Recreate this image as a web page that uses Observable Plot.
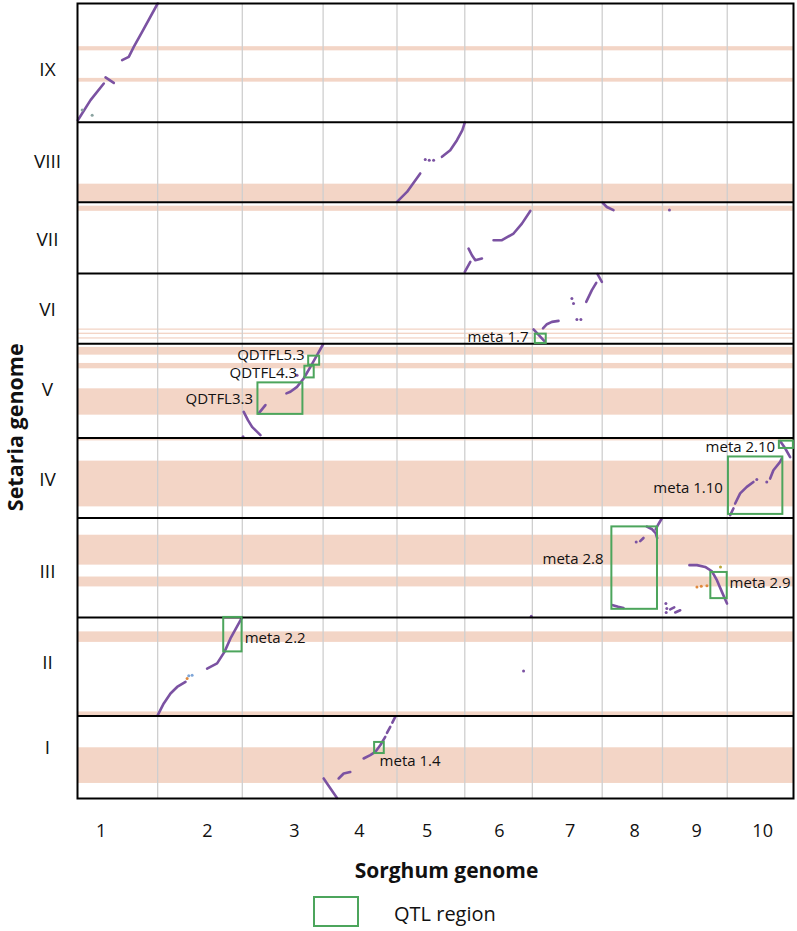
<!DOCTYPE html>
<html><head><meta charset="utf-8">
<script src="https://cdn.jsdelivr.net/npm/d3@7"></script>
<script src="https://cdn.jsdelivr.net/npm/@observablehq/plot@0.6"></script>
<style>
body{margin:0;background:#fff;font-family:"Open Sans",sans-serif;}
#wrap{position:relative;width:797px;}
#legend{position:relative;height:46px;width:797px;}
#legend .box{position:absolute;left:313px;top:11px;width:42px;height:27px;border:2px solid #4ca55c;}
#legend .lab{position:absolute;left:394px;top:15px;font-size:20px;line-height:28px;color:#111;font-family:"Open Sans",sans-serif;}
</style></head><body>
<div id="wrap"><div id="chart"></div>
<div id="legend"><div class="box"></div><div class="lab">QTL region</div></div></div>
<script>
// Sorghum chromosomes (x axis), lengths in Mb
const sorghumChr = ["1","2","3","4","5","6","7","8","9","10"];
const sorghumLen = [73.8, 77.9, 74.4, 68.0, 62.4, 62.2, 64.3, 55.5, 59.6, 61.0];
const sorghumTickPos = [21.8, 45.8, 47.9, 33.5, 27.8, 31.8, 34.9, 29.8, 31.4, 32.6];

// Setaria chromosomes (y axis, bottom to top), lengths in Mb
const setariaChr = ["I","II","III","IV","V","VI","VII","VIII","IX"];
const setariaLen = [41.6, 49.8, 50.2, 40.4, 47.6, 35.4, 36.0, 40.4, 59.9];
const setariaLabelPos = [25.4, 26.7, 22.8, 19.1, 24.1, 16.9, 16.8, 20.2, 26.2];

// highlighted (pink) Setaria regions
const bandChr   = ["IX","IX","VIII","VII","VI","VI","VI","V","V","V","IV","IV","III","III","II","II","I"];
const bandStart = [36.0,20.2,0,31.4,6.75,4.6,2.3,41.8,34.9,11.5,38.9,5.6,26.4,15.4,37.2,0,7.6];
const bandEnd   = [38.1,22.1,9.1,34.0,7.4,5.3,2.95,45.7,37.6,24.8,40.2,28.7,41.5,20.4,42.5,2.1,25.6];

// syntenic runs: sorghum chr, setaria chr, points [sorghum Mb, setaria Mb]
const blockSorghum = ["1","1","1","5","5","6","6","6","8","7","7","7","7","3","3","3","10","10","10","10","8","8","8","8","9","9","9","2","2","4","4","4","4","4"];
const blockSetaria = ["IX","IX","IX","VIII","VIII","VII","VII","VII","VII","VI","VI","VI","VI","V","V","V","IV","IV","IV","IV","III","III","III","III","III","III","III","II","II","I","I","I","I","I"];
const blockPoints = [
  [[0.3,1.0],[12.0,11.1],[24.2,19.5]],
  [[25.8,22.6],[33.4,19.8]],
  [[41.1,31.3],[47.2,33.0],[51.8,38.0],[59.5,45.6],[73.8,59.9]],
  [[0,0.2],[9.2,5.2],[21.4,14.5]],
  [[41.4,22.9],[49.0,26.2],[55.2,31.3],[60.1,36.3],[62.4,40.2]],
  [[0,0.8],[5.1,5.9]],
  [[3.5,12.6],[6.6,9.2],[9.7,6.7],[15.8,7.6]],
  [[26.5,16.8],[34.2,16.8],[44.9,20.2],[52.6,25.2],[60.3,31.6]],
  [[0.6,35.6],[4.3,33.6],[10.4,32.0]],
  [[1.1,7.2],[10.9,1.4]],
  [[9.8,7.7],[13.4,9.8],[18.0,11.0],[24.1,11.5]],
  [[49.6,21.1],[54.8,27.0],[58.8,30.7]],
  [[60.0,35.1],[64.0,31.2]],
  [[40.6,22.5],[44.3,23.3],[50.4,25.8],[56.5,30.0],[62.7,35.9],[68.8,41.8],[74.4,47.3]],
  [[15.1,12.4],[21.3,16.6]],
  [[1.3,13.2],[5.2,9.0],[9.0,5.6],[16.7,1.4]],
  [[2.7,1.4],[5.7,4.8]],
  [[7.3,7.3],[11.9,12.4],[18.0,15.7],[24.1,18.2]],
  [[39.5,19.9],[42.5,24.1],[48.7,28.3],[50.2,30.0]],
  [[48.7,38.8],[53.3,35.2],[57.9,30.7]],
  [[49.2,44.5],[52.0,47.3],[54.7,49.8]],
  [[41.1,45.8],[46.0,44.5],[49.2,42.5],[50.6,40.0]],
  [[35.0,38.5],[38.0,40.1]],
  [[9.8,6.2],[14.7,5.4],[19.6,4.8]],
  [[7.1,4.1],[10.8,5.1]],
  [[11.7,2.5],[16.3,3.6]],
  [[24.8,26.4],[31.7,26.4],[39.3,25.5],[45.5,23.3],[50.1,18.8],[54.7,12.9],[59.4,7.0]],
  [[0.1,0.5],[5.6,6.4],[11.8,11.4],[17.9,14.7],[25.6,17.3]],
  [[45.5,24.0],[54.7,26.6],[61.5,32.4],[67.0,39.2],[77.7,49.8]],
  [[0.5,10.1],[6.6,5.2],[12.8,0.3]],
  [[14.3,10.1],[18.9,12.6],[25.0,13.4]],
  [[37.3,20.2],[43.4,21.9],[48.0,23.5],[52.6,26.9],[57.2,31.1]],
  [[58.8,33.1],[61.8,36.1]],
  [[63.7,38.3],[66.4,41.2]]
];

// isolated hits
const dotSorghum = ["1","1","5","5","5","9","7","7","7","7","3","3","6","9","9","9","8","9","9","9","9","10","10","2","2","2","6"];
const dotSetaria = ["IX","IX","VIII","VIII","VIII","VII","VI","VI","VI","VI","V","V","III","III","III","III","III","III","III","III","III","IV","IV","II","II","II","II"];
const dotX = [4.3,13.5,26.0,29.7,33.7,6.4,36.4,37.9,41.0,44.7,50.4,0.7,61.2,3.1,4.0,3.4,31.3,31.7,35.7,40.9,53.4,27.2,36.4,27.1,28.6,31.7,54.1];
const dotY = [6.1,3.5,21.6,21.2,21.2,32.0,22.8,20.3,12.2,12.2,31.7,0.6,0.6,7.0,4.5,2.5,38.1,15.4,15.7,16.0,25.5,19.4,18.2,19.0,20.3,20.6,22.7];
const dotColor = ["#8aa3a0","#8aa3a0","p","p","p","p","p","p","p","p","p","p","p","p","p","p","p","#e0893e","#e0893e","#e0893e","#b8a83a","p","p","#e0893e","#7fa6d8","#7fa6d8","p"];

// QTL regions
const qtlName = ["QDTFL5.3","QDTFL4.3","QDTFL3.3","meta 1.7","meta 2.10","meta 1.10","meta 2.8","meta 2.9","meta 2.2","meta 1.4"];
const qtlSorghum = ["3","3","3","7","10","10","8","9","2","4"];
const qtlSetaria = ["V","V","V","VI","IV","IV","III","III","II","I"];
const qtlX1 = [61.1,57.6,14.4,2.7,48.0,1.1,8.9,44.5,60.8,47.4];
const qtlX2 = [71.2,66.2,55.8,12.8,60.9,51.2,50.9,59.6,77.7,56.3];
const qtlY1 = [36.7,30.3,11.9,0.1,35.1,1.8,4.1,9.5,32.4,22.7];
const qtlY2 = [41.3,36.2,27.8,4.8,38.8,30.8,45.7,22.7,49.8,28.3];
const qtlLabelX = [57.4,50.4,9.9,-3.5,44.1,-4.0,1.2,61.8,80.1,52.0];
const qtlLabelY = [41.6,32.5,19.6,3.4,35.6,15.2,29.2,17.1,39.2,19.0];
const qtlLabelAnchor = ["end","end","end","end","end","end","end","start","start","start"];

// axis titles
const xTitle = "Sorghum genome";
const yTitle = "Setaria genome";
const yTitlePos = 187.4; // Setaria cumulative Mb at the title's centre

// ---- build ----
const FONT = "'Open Sans', 'Noto Sans', sans-serif";
const PURPLE = "#7b52a2", PINK = "#f3d5c6", GREEN = "#4ca55c";
const sOff = {}, tOff = {};
let acc = 0; sorghumChr.forEach((c,i)=>{ sOff[c]=acc; acc+=sorghumLen[i]; });
const sTotal = acc;
acc = 0; setariaChr.forEach((c,i)=>{ tOff[c]=acc; acc+=setariaLen[i]; });
const tTotal = acc;
const sBounds = sorghumChr.slice(1).map(c=>sOff[c]);
const tBounds = setariaChr.slice(1).map(c=>tOff[c]);

const bands = bandChr.map((c,i)=>({y1:tOff[c]+bandStart[i], y2:tOff[c]+bandEnd[i]}));
const linePts = [];
blockPoints.forEach((pts,i)=>{
  const s = blockSorghum[i], t = blockSetaria[i];
  pts.forEach(([x,y])=>linePts.push({id:i, x:sOff[s]+x, y:tOff[t]+y}));
});
const dots = dotX.map((x,i)=>({x:sOff[dotSorghum[i]]+x, y:tOff[dotSetaria[i]]+dotY[i], c: dotColor[i]==="p"?PURPLE:dotColor[i]}));
const qtl = qtlName.map((n,i)=>({name:n,
  x1:sOff[qtlSorghum[i]]+qtlX1[i], x2:sOff[qtlSorghum[i]]+qtlX2[i],
  y1:tOff[qtlSetaria[i]]+qtlY1[i], y2:tOff[qtlSetaria[i]]+qtlY2[i],
  lx:sOff[qtlSorghum[i]]+qtlLabelX[i], ly:tOff[qtlSetaria[i]]+qtlLabelY[i], a:qtlLabelAnchor[i]}));
const xTicks = sorghumChr.map((c,i)=>({x:sOff[c]+sorghumTickPos[i], t:c}));
const yLabels = setariaChr.map((c,i)=>({y:tOff[c]+setariaLabelPos[i], t:c}));

const chart = Plot.plot({
  width: 797, height: 885,
  marginLeft: 77, marginRight: 4, marginTop: 3, marginBottom: 87,
  x: {domain:[0,sTotal], axis:null},
  y: {domain:[0,tTotal], axis:null},
  style: {fontFamily:FONT, color:"#111", background:"#fff"},
  marks: [
    Plot.rect(bands, {x1:()=>0, x2:()=>sTotal, y1:"y1", y2:"y2", fill:PINK}),
    Plot.ruleX(sBounds, {stroke:"#cfcfcf", strokeWidth:1.3}),
    Plot.line(linePts, {x:"x", y:"y", z:"id", stroke:PURPLE, strokeWidth:2.6, strokeLinecap:"round", strokeLinejoin:"round"}),
    Plot.dot(dots, {x:"x", y:"y", r:1.5, fill:"c", stroke:null}),
    Plot.ruleY(tBounds, {stroke:"#000", strokeWidth:2}),
    Plot.frame({stroke:"#000", strokeWidth:2}),
    Plot.rect(qtl, {x1:"x1", x2:"x2", y1:"y1", y2:"y2", fill:"none", stroke:GREEN, strokeWidth:2}),
    Plot.text(qtl.filter(d=>d.a==="end"), {x:"lx", y:"ly", text:"name", textAnchor:"end", lineAnchor:"middle", fontSize:15, fontFamily:FONT, fill:"#111"}),
    Plot.text(qtl.filter(d=>d.a==="start"), {x:"lx", y:"ly", text:"name", textAnchor:"start", lineAnchor:"middle", fontSize:15, fontFamily:FONT, fill:"#111"}),
    Plot.text(yLabels, {y:"y", text:"t", frameAnchor:"left", dx:-30, textAnchor:"middle", lineAnchor:"middle", fontSize:19, fontFamily:FONT, fill:"#111"}),
    Plot.text(xTicks, {x:"x", text:"t", frameAnchor:"bottom", dy:33, textAnchor:"middle", lineAnchor:"middle", fontSize:18, fontFamily:FONT, fill:"#111"}),
    Plot.text([xTitle], {frameAnchor:"bottom", dx:11, dy:73, textAnchor:"middle", lineAnchor:"middle", fontSize:21, fontWeight:"bold", fontFamily:FONT, fill:"#111"}),
    Plot.text([{y:yTitlePos, t:yTitle}], {y:"y", text:"t", frameAnchor:"left", dx:-61, rotate:-90, textAnchor:"middle", lineAnchor:"middle", fontSize:21.5, fontWeight:"bold", fontFamily:FONT, fill:"#111"})
  ]
});
document.getElementById("chart").appendChild(chart);
</script>
</body></html>
